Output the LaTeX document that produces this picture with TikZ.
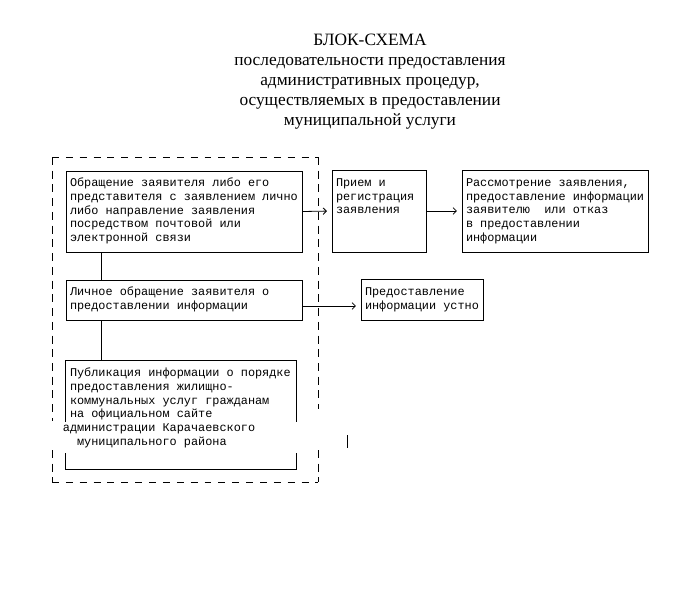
\documentclass[tikz,border=0pt]{standalone}
\usepackage{fontspec}
\setmainfont{Liberation Serif}
\newfontfamily\monofnt{Liberation Mono}
\usetikzlibrary{calc,arrows.meta}
\newcommand\mtext[2]{\makebox[#1][l]{\begin{tabular}{@{}l@{}}#2\end{tabular}}}
\tikzset{
  boxn/.style={draw, line width=0.6pt, inner xsep=3pt, inner ysep=0pt,
    font=\monofnt\fontsize{8.9}{10.3}\selectfont},
  plainn/.style={boxn, draw=none},
  link/.style={line width=0.6pt},
  arr/.style={line width=0.6pt, -{Straight Barb[length=2.5pt,width=5pt,line width=0.6pt]}, shorten >=3.5pt},
  dashh/.style={line width=0.6pt, dash pattern=on 5.2pt off 5.2pt},
  dashv/.style={line width=0.6pt, dash pattern=on 6pt off 4.3pt},
}
\begin{document}
\begin{tikzpicture}[x=0.75pt,y=-0.75pt]
\useasboundingbox (0,0) rectangle (691,597);
% title
\node[font=\fontsize{13}{15}\selectfont, align=center, inner sep=0pt] (title) at (370,82)
  {БЛОК-СХЕМА\\последовательности предоставления\\административных процедур,\\осуществляемых в предоставлении\\муниципальной услуги};
% boxes
\node[boxn, minimum height=60.75pt] (b1) at (184,211.5)
  {\mtext{171pt}{Обращение заявителя либо его\\представителя с заявлением лично\\либо направление заявления\\посредством почтовой или\\электронной связи}};
\node[boxn, minimum height=30pt] (b2) at (184,300)
  {\mtext{171pt}{Личное обращение заявителя о\\предоставлении информации}};
\node[plainn, minimum height=81pt] (b3) at (181,415)
  {\mtext{166.5pt}{Публикация информации о порядке\\предоставления жилищно-\\коммунальных услуг гражданам\\на официальном сайте\\\hspace*{-0.6em}администрации Карачаевского\\\hspace*{0.6em}муниципального района\\\mbox{}}};
\node[boxn, minimum height=61.5pt] (b4) at (379,211)
  {\mtext{64.5pt}{Прием и\\регистрация\\заявления\\\mbox{}\\\mbox{}}};
\node[boxn, minimum height=61.5pt] (b5) at (555,211)
  {\mtext{133.5pt}{Рассмотрение заявления,\\предоставление информации\\заявителю~ или отказ\\в предоставлении\\информации}};
\node[boxn, minimum height=30.75pt] (b6) at (422,299.5)
  {\mtext{85.5pt}{Предоставление\\информации устно}};
% box 3 border with gaps at the sides
\draw[link] ($(b3.north west)+(0,61)$) -- (b3.north west) -- (b3.north east) -- ($(b3.north east)+(0,61)$);
\draw[link] ($(b3.south west)+(0,-16)$) -- (b3.south west) -- (b3.south east) -- ($(b3.south east)+(0,-16)$);
% dashed frame
\draw[dashh] (52,157) -- (318,157);
\draw[dashh] (52,482) -- (318,482);
\draw[dashv] (52,157) -- (52,421);
\draw[dashv] (52,450) -- (52,482);
\draw[dashv] (318,157) -- (318,409);
\draw[dashv] (318,450) -- (318,482);
\draw[link] (347,435) -- (347,448);
% connectors
\draw[link] ($(b1.south west)+(36,0)$) coordinate (c1) -- (c1 |- b2.north);
\draw[link] ($(b2.south west)+(36,0)$) coordinate (c2) -- (c2 |- b3.north);
\draw[arr] (b1.east) -- (b4.west);
\draw[arr] (b4.east) -- (b5.west);
\draw[arr] ([yshift=-4.5pt]b2.east) -- ([yshift=-4.5pt]b2.east -| b6.west);
\end{tikzpicture}
\end{document}
